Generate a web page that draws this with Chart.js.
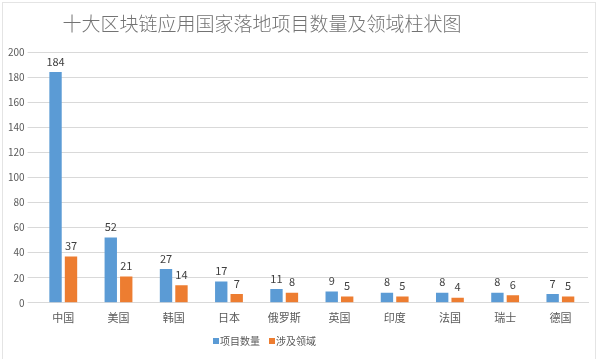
<!DOCTYPE html>
<html>
<head>
<meta charset="utf-8">
<script src="https://cdn.jsdelivr.net/npm/chart.js@4"></script>
<style>
  html, body { margin: 0; padding: 0; background: #fff; }
  #wrap { width: 600px; height: 359px; position: relative; }
</style>
</head>
<body>
<div id="wrap"><canvas id="bars"></canvas></div>
<script>
'use strict';

var countries = ['中国', '美国', '韩国', '日本', '俄罗斯', '英国', '印度', '法国', '瑞士', '德国'];
var projectCounts = [184, 52, 27, 17, 11, 9, 8, 8, 8, 7];
var fieldCounts = [37, 21, 14, 7, 8, 5, 5, 4, 6, 5];
var yTicks = [0, 20, 40, 60, 80, 100, 120, 140, 160, 180, 200];
var titleText = '十大区块链应用国家落地项目数量及领域柱状图';

var cjk = '"Noto Sans CJK SC", "Microsoft YaHei", sans-serif';

// value labels above each bar
var valueLabels = {
  id: 'valueLabels',
  afterDatasetsDraw: function(chart) {
    var ctx = chart.ctx;
    ctx.save();
    ctx.font = '11px ' + cjk;
    ctx.fillStyle = '#404040';
    ctx.textAlign = 'center';
    ctx.textBaseline = 'bottom';
    chart.data.datasets.forEach(function(ds, i) {
      chart.getDatasetMeta(i).data.forEach(function(bar, j) {
        ctx.fillText(ds.data[j], bar.x, bar.y - 5);
      });
    });
    ctx.restore();
  }
};

// title, legend and frame drawn by hand (they sit left of centre in the original)
var decor = {
  id: 'decor',
  afterDraw: function(chart) {
    var ctx = chart.ctx;
    ctx.save();
    ctx.strokeStyle = '#e4e4e4';
    ctx.lineWidth = 1;
    ctx.strokeRect(2.5, 2.5, 593, 360);

    ctx.font = '300 19px ' + cjk;
    ctx.fillStyle = '#737373';
    ctx.textAlign = 'center';
    ctx.textBaseline = 'middle';
    ctx.fillText(titleText, 262, 24);

    ctx.font = '10px ' + cjk;
    ctx.textAlign = 'left';
    var x = 213;
    chart.data.datasets.forEach(function(ds) {
      ctx.fillStyle = ds.backgroundColor;
      ctx.fillRect(x, 338, 6, 6);
      ctx.fillStyle = '#595959';
      ctx.fillText(ds.label, x + 7, 341);
      x += 7 + ctx.measureText(ds.label).width + 9;
    });
    ctx.restore();
  }
};

var ctx = document.getElementById('bars');
var myBarChart = new Chart(ctx, {
  type: 'bar',
  data: {
    labels: countries,
    datasets: [
      {
        label: '项目数量',
        data: projectCounts,
        backgroundColor: '#5B9BD5'
      },
      {
        label: '涉及领域',
        data: fieldCounts,
        backgroundColor: '#ED7D31'
      }
    ]
  },
  options: {
    responsive: true,
    maintainAspectRatio: false,
    animation: false,
    layout: { padding: { left: 5, right: 12, top: 52, bottom: 27 } },
    datasets: {
      bar: { categoryPercentage: 0.56, barPercentage: 0.8 }
    },
    plugins: {
      title: { display: false },
      legend: { display: false },
      tooltip: { enabled: false }
    },
    scales: {
      x: {
        grid: { display: false, drawTicks: false },
        border: { color: '#d9d9d9' },
        ticks: { color: '#595959', font: { family: cjk, size: 11 }, padding: 8 }
      },
      y: {
        min: 0,
        max: 200,
        afterBuildTicks: function(axis) {
          axis.ticks = yTicks.map(function(v) { return { value: v }; });
        },
        grid: { color: '#d9d9d9' },
        border: { display: false },
        ticks: { color: '#595959', font: { family: cjk, size: 10 }, padding: 3 }
      }
    }
  },
  plugins: [valueLabels, decor]
});
</script>
</body>
</html>
